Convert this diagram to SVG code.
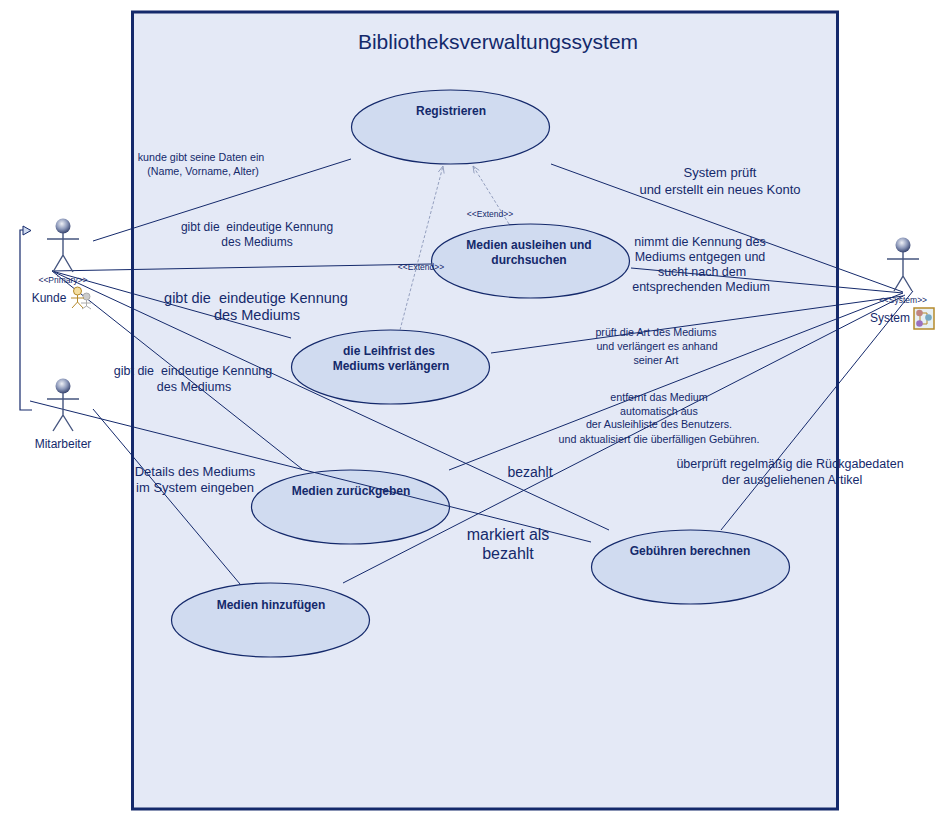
<svg xmlns="http://www.w3.org/2000/svg" width="947" height="821" viewBox="0 0 947 821">
<defs>
<radialGradient id="head" cx="0.42" cy="0.35" r="0.65"><stop offset="0" stop-color="#eef0f6"/><stop offset="0.55" stop-color="#8e9abb"/><stop offset="1" stop-color="#38456f"/></radialGradient>
<marker id="open" markerWidth="10" markerHeight="10" refX="7.500" refY="3.500" orient="auto" markerUnits="userSpaceOnUse"><path d="M0.5 0.5L7.500 3.500L0.5 6.500" fill="none" stroke="#8a96b8" stroke-width="0.8"/></marker>
</defs>
<style>
text{font-family:"Liberation Sans",Arial,sans-serif;fill:#14296b;text-anchor:middle;white-space:pre}
.c{fill:none;stroke:#14296b;stroke-width:1}
.d{fill:none;stroke:#8a96b8;stroke-width:0.9;stroke-dasharray:3 2;marker-end:url(#open)}
.u{fill:#d0dbf0;stroke:#14296b;stroke-width:1.2}
.ut{font-size:12px;font-weight:bold}
.l{font-size:12px}.m{font-size:12.5px}.n{font-size:13px}.s{font-size:10.7px}.x{font-size:8.5px}.b{font-size:14.500px}
.a{fill:none;stroke:#45557f;stroke-width:1.4}
</style>
<rect id="frame" x="132.500" y="12" width="705" height="797" fill="#e4e9f6" stroke="#14296b" stroke-width="3"/>
<text x="498" y="49" font-size="21">Bibliotheksverwaltungssystem</text>
<g id="uc1"><ellipse class="u" cx="450.500" cy="127" rx="99" ry="37"/><text class="ut" x="451" y="115">Registrieren</text></g>
<g id="uc2"><ellipse class="u" cx="530.500" cy="261" rx="99" ry="37"/><text class="ut" x="529" y="249">Medien ausleihen und</text><text class="ut" x="529" y="264">durchsuchen</text></g>
<g id="uc3"><ellipse class="u" cx="390.500" cy="367" rx="99" ry="37"/><text class="ut" x="389" y="355">die Leihfrist des</text><text class="ut" x="391" y="370">Mediums verlängern</text></g>
<g id="uc4"><ellipse class="u" cx="350.500" cy="507" rx="99" ry="37"/><text class="ut" x="351" y="495">Medien zurückgeben</text></g>
<g id="uc5"><ellipse class="u" cx="270.500" cy="620" rx="99" ry="37"/><text class="ut" x="271" y="609">Medien hinzufügen</text></g>
<g id="uc6"><ellipse class="u" cx="690.500" cy="567" rx="99" ry="37"/><text class="ut" x="690" y="555">Gebühren berechnen</text></g>
<g id="connectors">
<path class="c" d="M93 241L351 159M52 271L431 264M52 271L291 338M52 271L302 469M52 271L609 530M30 401L591 542M93 409L240 584"/>
<path class="c" d="M551 164L903 292M631 268L903 293M491 353L903 296M449 470L903 293M343 583L905 295M721 530L913 291"/>
<path class="d" d="M400 330L443 166"/>
<path class="d" d="M509 224L473 166"/>
<path d="M32 410H20V230H23" fill="none" stroke="#14296b" stroke-width="1.200"/>
<path d="M23 226L31 230.500L23 235Z" fill="#d0dbf0" stroke="#14296b"/>
</g>
<g id="kunde">
<circle cx="63" cy="226" r="7.500" fill="url(#head)"/><path class="a" d="M47 239H79M63 233V255L53 272M63 255L73 272"/>
<text class="x" x="63" y="283">&lt;&lt;Primary&gt;&gt;</text><text class="l" x="49" y="302">Kunde</text>
<circle cx="86.500" cy="296.500" r="3.500" fill="#ccc" stroke="#aaa"/><path d="M86.500 300V306L82 309M86.500 306L91 309M81 303H91" fill="none" stroke="#aaa"/>
<circle cx="77.500" cy="291" r="4" fill="#f5dfa0" stroke="#b58a2b"/><path d="M77.500 295V302L72 308M77.500 302L83 308M71 298H84" fill="none" stroke="#b58a2b"/>
</g>
<g id="mitarbeiter">
<circle cx="63" cy="386" r="7.500" fill="url(#head)"/><path class="a" d="M47 399H79M63 393V415L53 431M63 415L73 431"/>
<text class="l" x="63" y="448">Mitarbeiter</text>
</g>
<g id="system">
<circle cx="903" cy="245" r="7.500" fill="url(#head)"/><path class="a" d="M887 259H919M903 252V276L894 291M903 276L912 291"/>
<text class="x" x="903" y="303">&lt;&lt;System&gt;&gt;</text><text class="l" x="890" y="322">System</text>
<rect x="914" y="308" width="20" height="21" fill="#e7f0f4" stroke="#b58a2b" stroke-width="1.500"/>
<path d="M920 313H927V324H920M920 313V324" fill="none" stroke="#b58a2b"/>
<circle cx="919.500" cy="313" r="3.300" fill="#c08580"/><circle cx="919.500" cy="323.500" r="3.300" fill="#9a70c0"/><circle cx="928.500" cy="317.500" r="3.300" fill="#76a9c4"/>
</g>
<g id="labels">
<text class="s" x="201" y="161">kunde gibt seine Daten ein</text><text class="s" x="203" y="175">(Name, Vorname, Alter)</text>
<text class="l" x="257" y="231">gibt die  eindeutige Kennung</text><text class="l" x="257" y="246">des Mediums</text>
<text class="x" x="490" y="217">&lt;&lt;Extend&gt;&gt;</text><text class="x" x="421" y="270">&lt;&lt;Extend&gt;&gt;</text>
<text class="b" x="256" y="303">gibt die  eindeutige Kennung</text><text class="b" x="257" y="320">des Mediums</text>
<text class="m" x="193" y="375">gibt die  eindeutige Kennung</text><text class="m" x="194" y="391">des Mediums</text>
<text class="n" x="195" y="476">Details des Mediums</text><text class="n" x="195" y="492">im System eingeben</text>
<text class="n" x="720" y="177">System prüft</text><text class="n" x="720" y="194">und erstellt ein neues Konto</text>
<text class="m" x="700" y="246">nimmt die Kennung des</text><text class="m" x="700" y="261">Mediums entgegen und</text><text class="m" x="702" y="276">sucht nach dem</text><text class="m" x="701" y="291">entsprechenden Medium</text>
<text class="s" x="656" y="336">prüft die Art des Mediums</text><text class="s" x="657" y="350">und verlängert es anhand</text><text class="s" x="656" y="364">seiner Art</text>
<text class="s" x="659" y="401">entfernt das Medium</text><text class="s" x="659" y="415">automatisch aus</text><text class="s" x="659" y="428">der Ausleihliste des Benutzers.</text><text class="s" x="659" y="443">und aktualisiert die überfälligen Gebühren.</text>
<text class="m" x="790" y="468">überprüft regelmäßig die Rückgabedaten</text><text class="m" x="792" y="484">der ausgeliehenen Artikel</text>
<text x="530" y="477" font-size="14">bezahlt</text>
<text x="508" y="540" font-size="16">markiert als</text><text x="508" y="559" font-size="16">bezahlt</text>
</g>
</svg>
